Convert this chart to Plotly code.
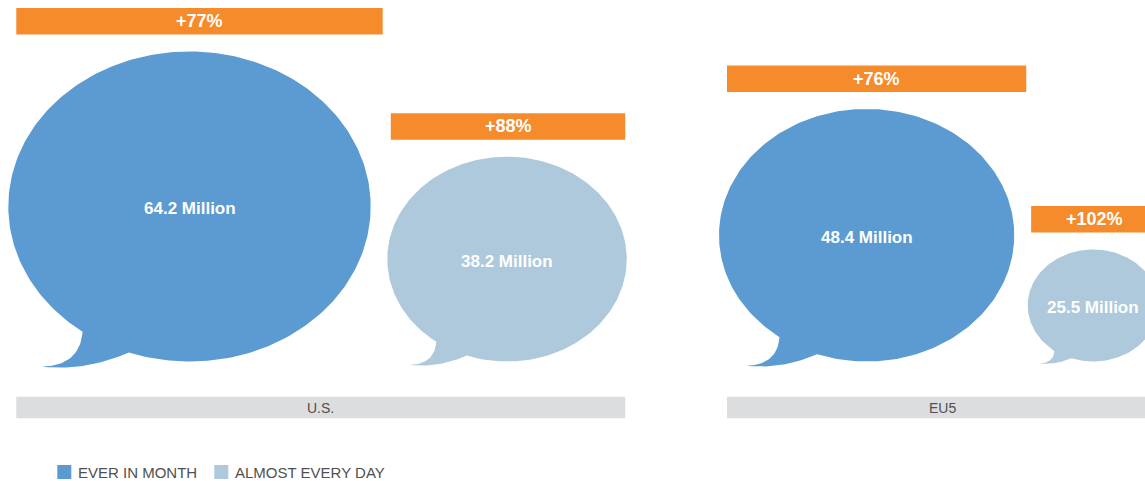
import numpy as np
import plotly.graph_objects as go

# ---------------- data ----------------
regions = ["U.S.", "EU5"]
series_names = ["EVER IN MONTH", "ALMOST EVERY DAY"]
ever_in_month = [64.2, 48.4]        # millions
almost_every_day = [38.2, 25.5]     # millions
growth_ever = [77, 76]              # % growth
growth_daily = [88, 102]            # % growth

# ---------------- style / layout ----------------
W, H = 1145, 481
colors = ["#5B9BD1", "#ADC9DB"]
orange = "#F68B2C"
gray_bar = "#DCDDDF"
gray_text = "#505050"
FONT = "Liberation Sans, Arial, Helvetica, sans-serif"

group_left = [8.3, 719.0]
bubble_gap = [16.6, 13.4]
baseline_y = 361.5
r_max = 155.0
aspect = 1.169
domain_floor = 21.0
exponent = 0.45
bar_h = 26.5
bar_gap = 17.0
bar_inset = [(8.0, 12.0), (3.5, -1.5)]   # per series (left, right) offsets of the orange bar
cat_bar_y = (396.7, 418.3)
legend_x = [57.3, 214.3]
legend_y = 472.0
legend_sq = 14.0

vmax = max(ever_in_month + almost_every_day)


def radius_y(v):
    return r_max * ((v - domain_floor) / (vmax - domain_floor)) ** exponent


def bezier(p0, p1, p2, n=30):
    t = np.linspace(0, 1, n)[:, None]
    p0, p1, p2 = map(np.array, (p0, p1, p2))
    return (1 - t) ** 2 * p0 + 2 * (1 - t) * t * p1 + t ** 2 * p2


# speech-bubble outline in unit-ellipse coordinates (y down)
th_S = np.arctan2(0.807, -0.59)
th_J = np.arctan2(0.942, -0.335)
arc_t = np.linspace(th_J, th_S - 2 * np.pi, 260)
arc = np.column_stack([np.cos(arc_t), np.sin(arc_t)])
S = arc[-1]
T = (-0.813, 1.033)
P = (-0.604, 1.026)
J = arc[0]
Q = (-0.577, 1.065)
unit_bubble = np.vstack([arc, bezier(S, P, T), bezier(T, Q, J)])

fig = go.Figure()
shapes = []
annotations = []

for gi, region in enumerate(regions):
    vals = [ever_in_month[gi], almost_every_day[gi]]
    growth = [growth_ever[gi], growth_daily[gi]]
    x_left = group_left[gi]
    bar_lefts, bar_rights = [], []
    for si, v in enumerate(vals):
        ry = radius_y(v)
        rx = ry * aspect
        cx = x_left + rx
        cy = baseline_y - ry
        xs = cx + rx * unit_bubble[:, 0]
        ys = cy + ry * unit_bubble[:, 1]
        fig.add_trace(go.Scatter(
            x=xs, y=ys, mode="lines", fill="toself",
            fillcolor=colors[si], line=dict(width=0, color=colors[si]),
            hoverinfo="skip", showlegend=False, name=series_names[si]))
        annotations.append(dict(
            x=cx, y=cy + 2, xref="x", yref="y", text=f"{v} Million",
            showarrow=False, font=dict(family=FONT, size=17, color="white", weight=700)))
        # orange growth bar
        bl = cx - rx + bar_inset[si][0]
        br = cx + rx + bar_inset[si][1]
        bb = cy - ry - bar_gap
        bt = bb - bar_h
        shapes.append(dict(type="rect", xref="x", yref="y", x0=bl, x1=br, y0=bt, y1=bb,
                           fillcolor=orange, line=dict(width=0), layer="below"))
        annotations.append(dict(
            x=(bl + br) / 2, y=(bt + bb) / 2, xref="x", yref="y", text=f"+{growth[si]}%",
            showarrow=False, font=dict(family=FONT, size=18, color="white", weight=700)))
        bar_lefts.append(bl)
        bar_rights.append(br)
        x_left = cx + rx + bubble_gap[gi]
    # category bar
    gl, gr = bar_lefts[0], bar_rights[-1]
    shapes.append(dict(type="rect", xref="x", yref="y", x0=gl, x1=gr,
                       y0=cat_bar_y[0], y1=cat_bar_y[1],
                       fillcolor=gray_bar, line=dict(width=0), layer="below"))
    annotations.append(dict(
        x=(gl + gr) / 2, y=sum(cat_bar_y) / 2, xref="x", yref="y", text=region,
        showarrow=False, font=dict(family=FONT, size=14, color=gray_text)))

# legend
for si, name in enumerate(series_names):
    lx = legend_x[si]
    shapes.append(dict(type="rect", xref="x", yref="y", x0=lx, x1=lx + legend_sq,
                       y0=legend_y - legend_sq / 2, y1=legend_y + legend_sq / 2,
                       fillcolor=colors[si], line=dict(width=0)))
    annotations.append(dict(
        x=lx + legend_sq + 4.5, y=legend_y, xref="x", yref="y", text=name,
        xanchor="left", showarrow=False, font=dict(family=FONT, size=15, color=gray_text)))

fig.update_layout(
    width=W, height=H, autosize=False,
    margin=dict(l=0, r=0, t=0, b=0, pad=0),
    paper_bgcolor="white", plot_bgcolor="white",
    xaxis=dict(range=[0, W], visible=False, fixedrange=True),
    yaxis=dict(range=[H, 0], visible=False, fixedrange=True),
    shapes=shapes, annotations=annotations, showlegend=False,
    hovermode=False,
)

fig.write_html("out.html",
               config={"displayModeBar": False, "staticPlot": True},
               post_script="document.body.style.margin='0';"
                           "document.documentElement.style.overflow='hidden';"
                           "document.body.style.overflow='hidden';")
